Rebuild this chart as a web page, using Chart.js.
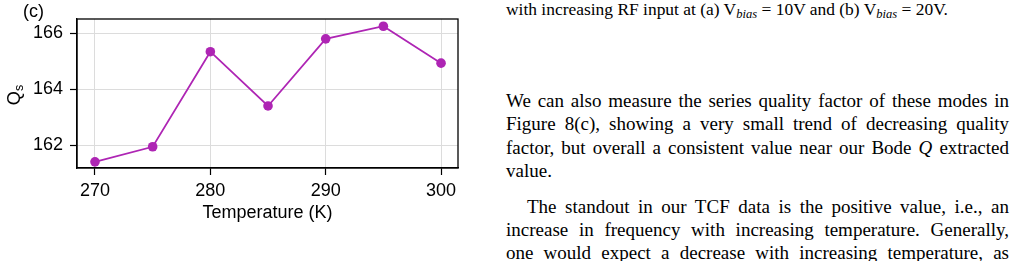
<!DOCTYPE html>
<html>
<head>
<meta charset="utf-8">
<script src="https://cdn.jsdelivr.net/npm/chart.js@4.4.1/dist/chart.umd.min.js"></script>
<style>
  html, body { margin: 0; padding: 0; background: #fff; width: 1014px; height: 261px; overflow: hidden; }
  #wrap { position: absolute; left: 0; top: 0; width: 470px; height: 261px; }
  #panel { position: absolute; left: 23px; top: 1px; font: 18px "Liberation Sans", Arial, sans-serif; color: #000; }
  #ytitle { position: absolute; left: 15px; top: 95px; transform: translate(-50%, -50%) rotate(-90deg); font: 18px "Liberation Sans", Arial, sans-serif; color: #000; white-space: nowrap; }
  #ytitle sub { font-size: 12.5px; vertical-align: -3px; }
  .txt { position: absolute; left: 506px; font-family: "Liberation Serif", "Times New Roman", serif; color: #000; }
  #cap { top: 0px; font-size: 16px; line-height: 18px; white-space: nowrap; }
  #cap i { font-size: 0.72em; vertical-align: -0.2em; }
  #body { top: 89px; width: 503px; font-size: 19px; line-height: 23.4px; }
  .ln { text-align: justify; text-align-last: justify; white-space: nowrap; }
  .last { text-align: left; text-align-last: left; }
  .ind { text-indent: 21px; }
  .pgap { height: 12px; }
</style>
</head>
<body>
<div id="wrap"><canvas id="c" width="470" height="261"></canvas></div>
<div id="panel">(c)</div>
<div id="ytitle">Q<sub>s</sub></div>
<div class="txt" id="cap">with increasing RF input at (a) V<i>bias</i> = 10V and (b) V<i>bias</i> = 20V.</div>
<div class="txt" id="body">
  <div class="ln">We can also measure the series quality factor of these modes in</div>
  <div class="ln">Figure 8(c), showing a very small trend of decreasing quality</div>
  <div class="ln">factor, but overall a consistent value near our Bode <i>Q</i> extracted</div>
  <div class="ln last">value.</div>
  <div class="pgap"></div>
  <div class="ln ind">The standout in our TCF data is the positive value, i.e., an</div>
  <div class="ln">increase in frequency with increasing temperature. Generally,</div>
  <div class="ln">one would expect a decrease with increasing temperature, as</div>
</div>
<script>
const temperatures = [270, 275, 280, 285, 290, 295, 300];
const qsValues = [161.40, 161.94, 165.34, 163.40, 165.80, 166.25, 164.93];
const xTickValues = [270, 280, 290, 300];
const yTickValues = [162, 164, 166];

// fit caption width to the reference span (506..948)
(function () {
  const cap = document.getElementById('cap');
  const w = cap.getBoundingClientRect().width;
  cap.style.fontSize = (16 * 442 / w).toFixed(2) + 'px';
})();

const frameBox = {
  id: 'frameBox',
  afterDraw(chart) {
    const {ctx, chartArea: a} = chart;
    ctx.save();
    ctx.strokeStyle = '#000';
    ctx.lineWidth = 1.3;
    ctx.strokeRect(a.left, a.top, a.right - a.left, a.bottom - a.top);
    ctx.restore();
  }
};

const fontSpec = { family: '"Liberation Sans", Arial, sans-serif', size: 18 };

new Chart(document.getElementById('c'), {
  type: 'line',
  data: {
    datasets: [{
      data: temperatures.map((t, i) => ({ x: t, y: qsValues[i] })),
      borderColor: '#ae25b4',
      backgroundColor: '#ae25b4',
      borderWidth: 1.7,
      pointRadius: 4.8,
      pointBorderWidth: 0,
      pointHoverRadius: 4.8,
      tension: 0,
      clip: false
    }]
  },
  options: {
    responsive: false,
    animation: false,
    devicePixelRatio: 1,
    layout: { padding: { left: 0, top: 19, right: 12, bottom: 0 } },
    plugins: { legend: { display: false }, tooltip: { enabled: false } },
    scales: {
      x: {
        type: 'linear',
        min: 268.44,
        max: 301.47,
        afterBuildTicks: (s) => { s.ticks = xTickValues.map(v => ({ value: v })); },
        afterFit: (s) => { s.height = 93; },
        ticks: { font: fontSpec, color: '#000', padding: 5, maxRotation: 0, callback: (v) => String(v) },
        grid: { color: '#dcdcdc', lineWidth: 1, tickColor: '#000', tickLength: 7, tickWidth: 1.2 },
        border: { display: true, color: '#000', width: 1.3 },
        title: { display: true, text: 'Temperature (K)', font: fontSpec, color: '#000', padding: { top: 0, bottom: 37 } }
      },
      y: {
        type: 'linear',
        min: 161.18,
        max: 166.51,
        afterBuildTicks: (s) => { s.ticks = yTickValues.map(v => ({ value: v })); },
        afterFit: (s) => { s.width = 77; },
        ticks: { font: fontSpec, color: '#000', padding: 7, callback: (v) => String(v) },
        grid: { color: '#dcdcdc', lineWidth: 1, tickColor: '#000', tickLength: 7, tickWidth: 1.2 },
        border: { display: true, color: '#000', width: 1.3 }
      }
    }
  },
  plugins: [frameBox]
});
</script>
</body>
</html>
